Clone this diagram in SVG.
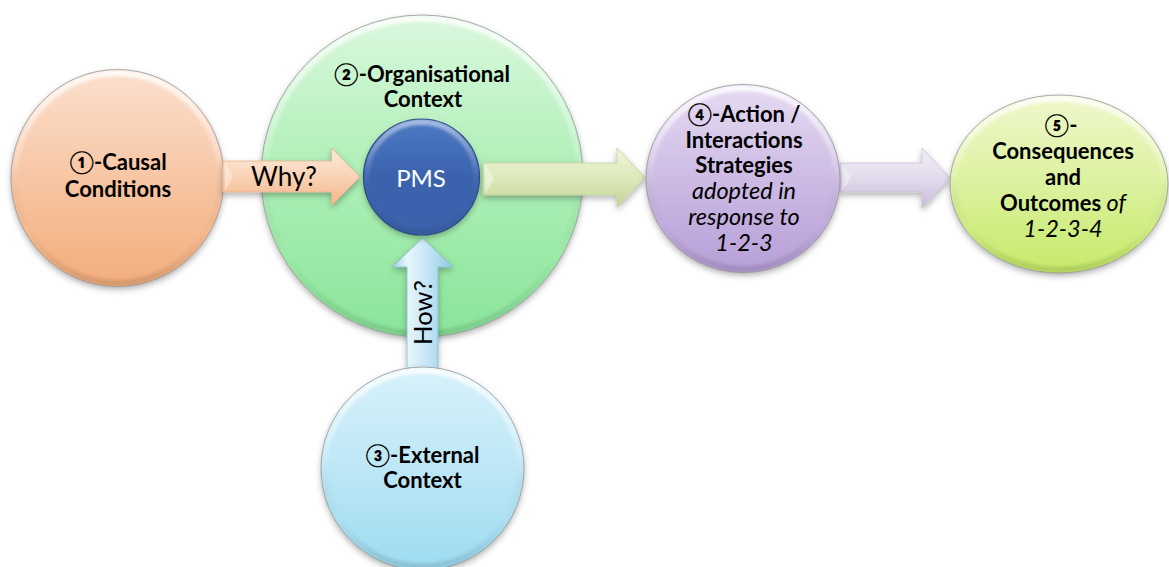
<svg xmlns="http://www.w3.org/2000/svg" width="1169" height="567" viewBox="0 0 1169 567">
  <style>
    .lbl { font-family: Lato, "DejaVu Sans", sans-serif; font-size: 22px; font-weight: bold; fill: #000; text-anchor: middle; }
    .it { font-weight: normal; font-style: italic; font-size: 23.5px; }
    .arrowtxt { font-family: Lato, "DejaVu Sans", sans-serif; font-weight: normal; fill: #000; text-anchor: middle; }
    .edge { fill: none; stroke: #8f8f8f; stroke-width: 1; stroke-opacity: 0.75; }
    .rim { fill: none; stroke: url(#rim); stroke-width: 6; filter: url(#soft); }
  </style>
  <defs>
    <filter id="shadow" x="-20%" y="-20%" width="140%" height="150%">
      <feDropShadow dx="0" dy="3" stdDeviation="3" flood-color="#000" flood-opacity="0.3"/>
    </filter>
    <filter id="soft" x="-10%" y="-10%" width="120%" height="120%">
      <feGaussianBlur stdDeviation="1.6"/>
    </filter>
    <linearGradient id="rim" x1="0" y1="0" x2="0" y2="1">
      <stop offset="0" stop-color="#fff" stop-opacity="0.85"/>
      <stop offset="0.45" stop-color="#fff" stop-opacity="0.15"/>
      <stop offset="0.75" stop-color="#000" stop-opacity="0"/>
      <stop offset="1" stop-color="#000" stop-opacity="0.12"/>
    </linearGradient>
    <linearGradient id="gOrange" x1="0" y1="0" x2="0" y2="1">
      <stop offset="0" stop-color="#fbe0cf"/>
      <stop offset="0.5" stop-color="#f7c6a4"/>
      <stop offset="1" stop-color="#f3ad7b"/>
    </linearGradient>
    <linearGradient id="gGreen" x1="0" y1="0" x2="0" y2="1">
      <stop offset="0" stop-color="#dbf8de"/>
      <stop offset="0.5" stop-color="#adefb6"/>
      <stop offset="1" stop-color="#8ae59a"/>
    </linearGradient>
    <linearGradient id="gBlue" x1="0" y1="0" x2="0" y2="1">
      <stop offset="0" stop-color="#4d79c4"/>
      <stop offset="0.5" stop-color="#3b63ad"/>
      <stop offset="1" stop-color="#3a62ab"/>
    </linearGradient>
    <linearGradient id="gSky" x1="0" y1="0" x2="0" y2="1">
      <stop offset="0" stop-color="#d8f2fb"/>
      <stop offset="0.5" stop-color="#bde7f6"/>
      <stop offset="1" stop-color="#9ddbf1"/>
    </linearGradient>
    <linearGradient id="gLilac" x1="0" y1="0" x2="0" y2="1">
      <stop offset="0" stop-color="#e6dbf2"/>
      <stop offset="0.5" stop-color="#cdbbe4"/>
      <stop offset="1" stop-color="#b79fd8"/>
    </linearGradient>
    <linearGradient id="gLime" x1="0" y1="0" x2="0" y2="1">
      <stop offset="0" stop-color="#eff8cc"/>
      <stop offset="0.5" stop-color="#dcf19f"/>
      <stop offset="1" stop-color="#c5ea68"/>
    </linearGradient>
    <linearGradient id="aPeach" x1="0" y1="0" x2="0" y2="1">
      <stop offset="0" stop-color="#fdebdd"/>
      <stop offset="0.5" stop-color="#fad3b6"/>
      <stop offset="1" stop-color="#f3b486"/>
    </linearGradient>
    <linearGradient id="aOlive" x1="0" y1="0" x2="0" y2="1">
      <stop offset="0" stop-color="#f0f5dc"/>
      <stop offset="0.5" stop-color="#dde9bb"/>
      <stop offset="1" stop-color="#c3d596"/>
    </linearGradient>
    <linearGradient id="aMauve" x1="0" y1="0" x2="0" y2="1">
      <stop offset="0" stop-color="#f3f0f7"/>
      <stop offset="0.5" stop-color="#e2dbeb"/>
      <stop offset="1" stop-color="#c9bcdb"/>
    </linearGradient>
    <linearGradient id="aIce" x1="0" y1="0" x2="1" y2="0">
      <stop offset="0" stop-color="#9ccfe6"/>
      <stop offset="0.25" stop-color="#e6f6fc"/>
      <stop offset="0.6" stop-color="#c3e5f4"/>
      <stop offset="1" stop-color="#8fc7e2"/>
    </linearGradient>
  </defs>

  <!-- 1: causal conditions -->
  <g id="node-causal">
    <ellipse cx="117.5" cy="178" rx="106.5" ry="108.5" fill="url(#gOrange)" filter="url(#shadow)"/>
    <ellipse cx="117.5" cy="178" rx="103" ry="105" class="rim"/>
    <ellipse cx="117.5" cy="178" rx="106.5" ry="108.5" class="edge"/>
    <text class="lbl" x="118" y="170">①-Causal</text>
    <text class="lbl" x="118" y="197">Conditions</text>
  </g>

  <!-- 2: organisational context -->
  <g id="node-organisational">
    <circle cx="422" cy="176" r="161" fill="url(#gGreen)" filter="url(#shadow)"/>
    <circle cx="422" cy="176" r="157.5" class="rim"/>
    <circle cx="422" cy="176" r="161" class="edge"/>
    <text class="lbl" x="422" y="82">②-Organisational</text>
    <text class="lbl" x="423" y="107">Context</text>
  </g>

  <!-- arrows -->
  <g id="connectors">
    <g id="arrow-why">
      <path d="M223,161 L331.5,161 L331.5,148 L360,177 L331.5,205.5 L331.5,192 L223,192 Z" fill="url(#aPeach)" stroke="#e2b28d" stroke-width="0.8" filter="url(#shadow)"/>
      <path d="M225,162 L233,176.5 L225,191 Z" fill="#fff" fill-opacity="0.35"/>
      <text class="arrowtxt" x="284" y="186" font-size="26">Why?</text>
    </g>
    <g id="arrow-how">
      <path d="M407,368 L407,267 L392,267 L422.5,238 L453,267 L438,267 L438,368 Z" fill="url(#aIce)" stroke="#86b9d2" stroke-width="0.8" filter="url(#shadow)"/>
      <text class="arrowtxt" font-size="25.5" transform="translate(432,312.5) rotate(-90)" x="0" y="0">How?</text>
    </g>
    <g id="arrow-strategies">
      <path d="M483,163 L617,163 L617,148 L645,177.5 L617,207 L617,195 L483,195 Z" fill="url(#aOlive)" stroke="#c2cf9c" stroke-width="0.8" filter="url(#shadow)"/>
      <path d="M485,164 L494,179 L485,194 Z" fill="#fff" fill-opacity="0.4"/>
    </g>
    <g id="arrow-outcomes">
      <path d="M840,163 L922,163 L922,148 L950,178 L922,208 L922,192 L840,192 Z" fill="url(#aMauve)" stroke="#c9bfd8" stroke-width="0.8" filter="url(#shadow)"/>
      <path d="M842,164 L851,177.5 L842,191 Z" fill="#fff" fill-opacity="0.4"/>
    </g>
  </g>

  <!-- PMS core -->
  <g id="node-pms">
    <circle cx="421.5" cy="177" r="58" fill="url(#gBlue)" filter="url(#shadow)"/>
    <circle cx="421.5" cy="177" r="55" class="rim" opacity="0.6"/>
    <circle cx="421.5" cy="177" r="58" fill="none" stroke="#2c4d86" stroke-width="1.2"/>
    <text x="421" y="186.5" font-family="Lato, 'DejaVu Sans', sans-serif" font-size="24" fill="#fff" text-anchor="middle">PMS</text>
  </g>

  <!-- 3: external context -->
  <g id="node-external">
    <circle cx="422.5" cy="468.5" r="101.5" fill="url(#gSky)" filter="url(#shadow)"/>
    <circle cx="422.5" cy="468.5" r="98" class="rim"/>
    <circle cx="422.5" cy="468.5" r="101.5" class="edge"/>
    <text class="lbl" x="422.5" y="463">③-External</text>
    <text class="lbl" x="422.5" y="488">Context</text>
  </g>

  <!-- 4: action / interaction strategies -->
  <g id="node-strategies">
    <ellipse cx="743" cy="178.5" rx="97" ry="94" fill="url(#gLilac)" filter="url(#shadow)"/>
    <ellipse cx="743" cy="178.5" rx="93.5" ry="90.5" class="rim"/>
    <ellipse cx="743" cy="178.5" rx="97" ry="94" class="edge"/>
    <text class="lbl" x="744" y="122">④-Action /</text>
    <text class="lbl" x="744" y="147.7">Interactions</text>
    <text class="lbl" x="744" y="173.4">Strategies</text>
    <text class="lbl it" x="744" y="199.1">adopted in</text>
    <text class="lbl it" x="744" y="224.8">response to</text>
    <text class="lbl it" x="744" y="250.5">1-2-3</text>
  </g>

  <!-- 5: consequences and outcomes -->
  <g id="node-outcomes">
    <ellipse cx="1059" cy="184" rx="109" ry="89" fill="url(#gLime)" filter="url(#shadow)"/>
    <ellipse cx="1059" cy="184" rx="105.5" ry="85.5" class="rim"/>
    <ellipse cx="1059" cy="184" rx="109" ry="89" class="edge"/>
    <text class="lbl" x="1061" y="133.3">⑤-</text>
    <text class="lbl" x="1063" y="159.2">Consequences</text>
    <text class="lbl" x="1063" y="185">and</text>
    <text class="lbl" x="1063" y="210.9">Outcomes <tspan class="it">of</tspan></text>
    <text class="lbl it" x="1063" y="236.7">1-2-3-4</text>
  </g>
</svg>
